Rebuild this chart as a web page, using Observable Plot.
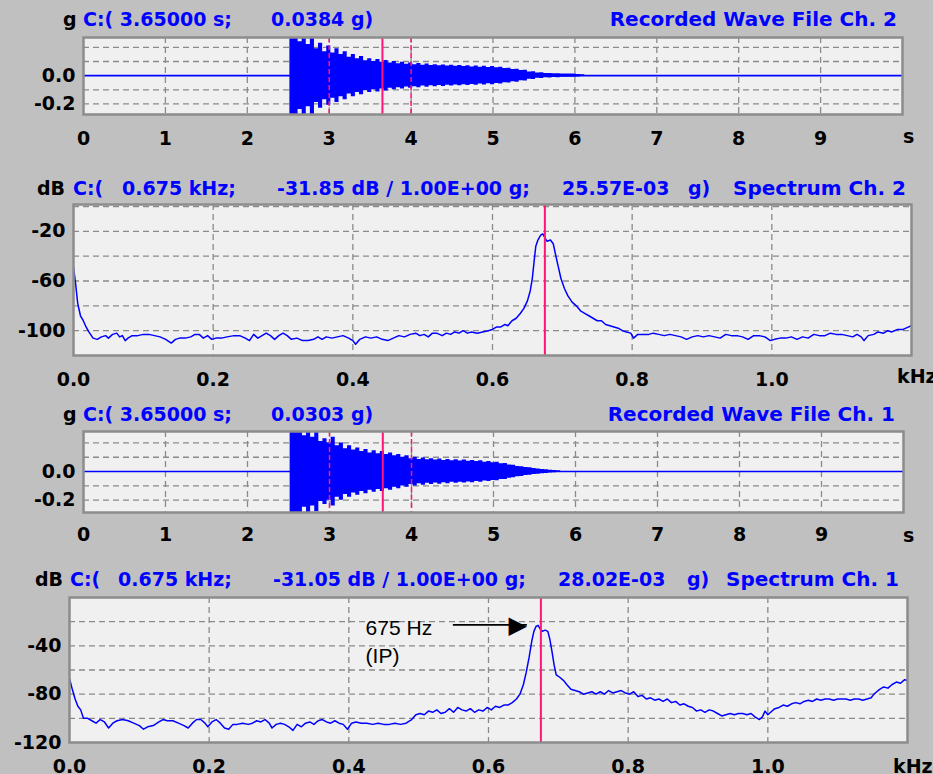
<!DOCTYPE html>
<html><head><meta charset="utf-8">
<script src="https://cdn.jsdelivr.net/npm/d3@7"></script>
<script src="https://cdn.jsdelivr.net/npm/@observablehq/plot@0.6"></script>
<style>
html,body{margin:0;padding:0;background:#c0c0c0;}
#root{position:relative;width:933px;height:774px;overflow:hidden;background:#c0c0c0;font-family:'DejaVu Sans',sans-serif;font-weight:bold;}
.t{position:absolute;white-space:pre;line-height:20px;font-size:19px;}
.b{color:#0000ff;}
.k{color:#000;}
.panel{position:absolute;left:0;}
</style></head><body><div id="root"></div>
<script>
// ---------- data ----------
const waveTime = [
 2.52,2.57,2.62,2.67,2.72,2.77,2.82,2.87,2.92,2.97,
 3.02,3.07,3.12,3.17,3.22,3.27,3.32,3.37,3.42,3.47,
 3.52,3.57,3.62,3.67,3.72,3.77,3.82,3.87,3.92,3.97,
 4.02,4.07,4.12,4.17,4.22,4.27,4.32,4.37,4.42,4.47,
 4.52,4.57,4.62,4.67,4.72,4.77,4.82,4.87,4.92,4.97,
 5.02,5.07,5.12,5.17,5.22,5.27,5.32,5.37,5.42,5.47,
 5.52,5.57,5.62,5.67,5.72,5.77,5.82,5.87,5.92,5.97,
 6.02,6.07,6.12];
const waveCh2Amp = [
 0.30,0.30,0.24,0.30,0.22,0.28,0.19,0.23,0.17,0.21,
 0.16,0.19,0.15,0.17,0.13,0.15,0.12,0.135,0.105,0.12,
 0.10,0.115,0.095,0.108,0.09,0.10,0.085,0.095,0.08,0.09,
 0.078,0.086,0.074,0.082,0.072,0.078,0.07,0.076,0.068,0.074,
 0.066,0.072,0.064,0.07,0.062,0.068,0.06,0.066,0.058,0.064,
 0.056,0.06,0.05,0.052,0.044,0.046,0.036,0.038,0.026,0.028,
 0.019,0.02,0.015,0.016,0.013,0.014,0.012,0.012,0.011,0.011,
 0.009,0.006,0];
const waveCh1Amp = [
 0.30,0.30,0.30,0.25,0.30,0.24,0.28,0.21,0.23,0.20,
 0.24,0.18,0.20,0.16,0.18,0.15,0.165,0.14,0.155,0.13,
 0.145,0.125,0.14,0.12,0.13,0.11,0.12,0.10,0.11,0.09,
 0.10,0.085,0.095,0.082,0.09,0.08,0.088,0.078,0.085,0.075,
 0.082,0.074,0.08,0.072,0.078,0.07,0.075,0.066,0.07,0.062,
 0.065,0.055,0.056,0.046,0.044,0.036,0.034,0.028,0.026,0.021,
 0.018,0.015,0.013,0.01,0.008,0.005,0,0,0,0,
 0,0,0];

const specCh2Freq = [0.000,0.003,0.006,0.010,0.014,0.018,0.022,0.028,0.034,0.040,0.046,0.050,0.056,0.062,0.066,0.070,0.074,0.078,0.084,0.092,0.100,0.108,0.116,0.124,0.132,0.140,0.146,0.152,0.160,0.168,0.174,0.180,0.186,0.192,0.198,0.204,0.212,0.220,0.230,0.238,0.246,0.252,0.258,0.264,0.270,0.276,0.282,0.288,0.294,0.300,0.306,0.312,0.320,0.328,0.336,0.344,0.350,0.356,0.362,0.370,0.378,0.386,0.394,0.400,0.404,0.410,0.418,0.426,0.434,0.442,0.450,0.458,0.466,0.474,0.482,0.490,0.496,0.502,0.508,0.514,0.520,0.528,0.534,0.540,0.546,0.552,0.558,0.564,0.570,0.578,0.586,0.594,0.600,0.606,0.612,0.618,0.622,0.628,0.634,0.640,0.645,0.650,0.654,0.657,0.660,0.662,0.665,0.669,0.672,0.675,0.678,0.683,0.687,0.690,0.694,0.698,0.703,0.708,0.714,0.720,0.726,0.732,0.738,0.744,0.750,0.756,0.762,0.768,0.774,0.780,0.786,0.792,0.798,0.802,0.808,0.816,0.824,0.830,0.838,0.846,0.854,0.862,0.870,0.878,0.886,0.894,0.902,0.910,0.918,0.926,0.934,0.942,0.950,0.958,0.966,0.974,0.982,0.990,0.998,1.004,1.012,1.020,1.028,1.036,1.044,1.052,1.060,1.068,1.076,1.084,1.092,1.100,1.108,1.116,1.122,1.128,1.132,1.138,1.146,1.152,1.160,1.166,1.172,1.180,1.188,1.196,1.200];
const specCh2Db = [-49,-62,-78,-88,-92,-97,-101,-106,-107,-105,-104,-106,-103,-102,-105,-104,-108,-106,-104,-104,-103,-103,-104,-105,-107,-110,-107,-106,-106,-105,-103,-103,-106,-104,-107,-106,-106,-105,-104,-104,-106,-108,-103,-106,-104,-102,-104,-107,-104,-102,-104,-107,-106,-108,-108,-107,-105,-107,-105,-106,-105,-104,-106,-108,-111,-107,-105,-106,-105,-107,-108,-106,-104,-105,-103,-102,-104,-103,-105,-102,-102,-104,-102,-103,-101,-102,-100,-102,-101,-102,-101,-100,-99,-97,-97,-95,-96,-92,-90,-86,-82,-76,-68,-58,-42,-32,-27,-23,-22,-25,-28,-27,-30,-38,-48,-58,-66,-72,-77,-80,-84,-86,-88,-90,-92,-92,-95,-96,-97,-98,-100,-101,-102,-106,-103,-103,-103,-102,-103,-104,-103,-104,-105,-107,-105,-104,-105,-104,-105,-106,-103,-104,-104,-105,-107,-104,-104,-105,-108,-107,-106,-106,-105,-107,-105,-106,-103,-104,-104,-102,-103,-103,-104,-105,-103,-105,-108,-104,-103,-101,-102,-100,-101,-99,-99,-97,-96];

const specCh1Freq = [0.000,0.004,0.008,0.012,0.016,0.020,0.026,0.032,0.038,0.044,0.050,0.056,0.062,0.068,0.076,0.084,0.092,0.100,0.106,0.112,0.120,0.128,0.134,0.140,0.148,0.156,0.164,0.170,0.176,0.182,0.188,0.194,0.198,0.204,0.210,0.216,0.222,0.228,0.234,0.240,0.248,0.256,0.262,0.268,0.274,0.280,0.286,0.290,0.296,0.302,0.308,0.314,0.320,0.326,0.332,0.338,0.344,0.350,0.356,0.362,0.368,0.374,0.380,0.386,0.392,0.398,0.404,0.410,0.418,0.426,0.434,0.442,0.450,0.458,0.466,0.474,0.482,0.490,0.496,0.502,0.508,0.514,0.520,0.526,0.532,0.538,0.544,0.550,0.556,0.562,0.568,0.574,0.580,0.586,0.592,0.598,0.604,0.610,0.616,0.622,0.628,0.634,0.640,0.645,0.650,0.654,0.658,0.662,0.665,0.668,0.671,0.674,0.677,0.681,0.685,0.688,0.691,0.694,0.697,0.702,0.708,0.712,0.718,0.724,0.730,0.736,0.742,0.748,0.754,0.760,0.766,0.772,0.778,0.784,0.790,0.796,0.802,0.808,0.814,0.820,0.826,0.832,0.838,0.844,0.850,0.856,0.862,0.868,0.874,0.880,0.886,0.892,0.898,0.904,0.910,0.916,0.922,0.928,0.934,0.940,0.946,0.952,0.958,0.964,0.970,0.976,0.982,0.988,0.992,0.996,1.000,1.004,1.010,1.016,1.022,1.028,1.034,1.040,1.046,1.052,1.058,1.064,1.070,1.076,1.082,1.088,1.094,1.100,1.106,1.112,1.118,1.124,1.130,1.136,1.142,1.148,1.152,1.156,1.160,1.166,1.172,1.178,1.184,1.190,1.196,1.200];
const specCh1Db = [-67,-76,-84,-90,-93,-100,-100,-102,-104,-101,-103,-108,-104,-102,-101,-102,-104,-106,-109,-107,-106,-103,-101,-102,-102,-104,-106,-108,-104,-101,-101,-104,-107,-103,-101,-104,-108,-109,-105,-105,-104,-105,-104,-102,-103,-101,-104,-108,-105,-104,-105,-107,-110,-105,-107,-104,-103,-105,-102,-101,-103,-104,-102,-104,-105,-109,-104,-103,-104,-104,-105,-104,-105,-105,-104,-105,-104,-101,-97,-96,-97,-94,-95,-93,-96,-95,-92,-95,-91,-93,-94,-92,-95,-93,-94,-91,-93,-90,-91,-89,-89,-87,-84,-80,-72,-62,-50,-36,-28,-24,-23,-26,-28,-27,-28,-35,-45,-56,-64,-66,-69,-72,-76,-77,-78,-80,-79,-78,-80,-78,-80,-77,-79,-78,-77,-79,-80,-78,-82,-81,-84,-83,-85,-84,-86,-84,-87,-86,-89,-88,-90,-91,-94,-93,-95,-93,-94,-96,-98,-97,-96,-97,-96,-96,-97,-96,-99,-101,-99,-94,-97,-95,-92,-91,-89,-90,-88,-87,-88,-86,-85,-86,-84,-85,-84,-84,-85,-84,-84,-84,-85,-84,-84,-85,-84,-83,-80,-78,-76,-74,-75,-72,-70,-71,-68,-69];

const waveXTicks = [0,1,2,3,4,5,6,7,8,9];
const waveXGrid = [1,2,3,4,5,6,7,8,9];
const waveYTicks = [0,-0.2];
const waveYGrid = [-0.2,-0.1,0.1,0.2];
const specXTicks = [0,0.2,0.4,0.6,0.8,1.0];
const specXGrid = [0.2,0.4,0.6,0.8,1.0];
const spec2YTicks = [-20,-60,-100];
const spec2YGrid = [0,-20,-40,-60,-80,-100];
const spec1YTicks = [-40,-80,-120];
const spec1YGrid = [-20,-40,-60,-80,-100];
const cursorTime = [3.65];
const cursorBand = [3.0, 4.0];
const cursorFreq = [0.675];
const annLabels = [{f:0.424, db:-25.1, text:"675 Hz"}, {f:0.424, db:-48.7, text:"(IP)"}];
const annArrow = [{f1:0.549, f2:0.655, db:-22.7}];

const headers = [
 {top:8.7, unit:"g", unitX:63, parts:[["C:( 3.65000 s;",83],["0.0384 g)",271]], title:"Recorded Wave File Ch. 2", titleRight:897},
 {top:177.5, unit:"dB", unitX:37, parts:[["C:(",73],["0.675 kHz;",122],["-31.85 dB / 1.00E+00 g;",277],["25.57E-03",562],["g)",688]], title:"Spectrum Ch. 2", titleRight:906},
 {top:403.5, unit:"g", unitX:63, parts:[["C:( 3.65000 s;",83],["0.0303 g)",271]], title:"Recorded Wave File Ch. 1", titleRight:895},
 {top:568.5, unit:"dB", unitX:35, parts:[["C:(",70],["0.675 kHz;",118],["-31.05 dB / 1.00E+00 g;",273],["28.02E-03",558],["g)",687]], title:"Spectrum Ch. 1", titleRight:899}
];
const units = [{text:"s", x:903, top:126.4},{text:"kHz", x:897, top:366.4},{text:"s", x:903, top:525},{text:"kHz", x:893, top:756.4}];

// ---------- styles ----------
const BLUE="#0000ff", PINK="#ff1478", GRID="#8a8a8a", BG="#f0f0f0", BORDER="#8c8c8c";
const root = document.getElementById("root");

function common(o){
  return {width:933, height:o.height, marginTop:o.mt, marginBottom:o.mb, marginLeft:o.ml, marginRight:o.mr,
    style:{background:"transparent", fontFamily:"'DejaVu Sans', sans-serif", fontSize:"19px", fontWeight:"bold", color:"#000", overflow:"visible"}};
}
function gridMarks(xg, yg){
  return [
    Plot.ruleX(xg, {stroke:GRID, strokeWidth:1.3, strokeDasharray:"6,4"}),
    Plot.ruleY(yg, {stroke:GRID, strokeWidth:1.3, strokeDasharray:"6,4"})
  ];
}
function wave(o, amp){
  const data = waveTime.map((t,i)=>({t, a:amp[i]}));
  return Plot.plot({...common(o),
    x:{domain:[0,10], ticks:waveXTicks, tickFormat:d=>String(d), tickSize:0, tickPadding:o.xpad, label:null},
    y:{domain:o.yDomain, ticks:waveYTicks, tickFormat:d=>d.toFixed(1), tickSize:0, tickPadding:8, label:null},
    marks:[
      Plot.frame({fill:BG, stroke:"none"}),
      ...gridMarks(waveXGrid, waveYGrid),
      Plot.ruleY([0], {stroke:BLUE, strokeWidth:1.6}),
      Plot.areaY(data, {x:"t", y1:d=>-d.a, y2:"a", curve:"step-after", fill:BLUE, clip:true}),
      Plot.ruleX(cursorBand, {stroke:PINK, strokeWidth:1.5, strokeDasharray:"5,3"}),
      Plot.ruleX(cursorTime, {stroke:PINK, strokeWidth:2}),
      Plot.frame({stroke:BORDER, strokeWidth:2.5})
    ]});
}
function spec(o, freq, db, extra){
  const data = freq.map((f,i)=>({f, db:db[i]}));
  return Plot.plot({...common(o),
    x:{domain:[0,1.2], ticks:specXTicks, tickFormat:d=>d.toFixed(1), tickSize:0, tickPadding:o.xpad, label:null},
    y:{domain:o.yDomain, ticks:o.yTicks, tickFormat:d=>String(d), tickSize:0, tickPadding:8, label:null},
    marks:[
      Plot.frame({fill:BG, stroke:"none"}),
      ...gridMarks(specXGrid, o.yGrid),
      Plot.line(data, {x:"f", y:"db", stroke:BLUE, strokeWidth:1.5, clip:true}),
      Plot.ruleX(cursorFreq, {stroke:PINK, strokeWidth:2}),
      ...(extra||[]),
      Plot.frame({stroke:BORDER, strokeWidth:2.5})
    ]});
}
function place(el, top){
  const d = document.createElement("div");
  d.className = "panel"; d.style.top = top + "px";
  d.appendChild(el); root.appendChild(d);
}

place(wave({height:120, mt:7, mb:36, ml:83, mr:31, xpad:17, yDomain:[-0.275,0.27]}, waveCh2Amp), 30);
place(spec({height:197, mt:6, mb:40, ml:73, mr:22, xpad:17, yDomain:[-120,1.6], yTicks:spec2YTicks, yGrid:spec2YGrid}, specCh2Freq, specCh2Db), 198);
place(wave({height:125, mt:6, mb:38, ml:83, mr:30, xpad:15, yDomain:[-0.286,0.28]}, waveCh1Amp), 425);
const annMarks = [
  Plot.text(annLabels, {x:"f", y:"db", text:"text", textAnchor:"start", fontFamily:"'Liberation Sans', Arial, sans-serif", fontSize:21, fontWeight:"normal", fill:"#000"}),
  Plot.link(annArrow, {x1:"f1", x2:"f2", y1:"db", y2:"db", stroke:"#000", strokeWidth:1.8}),
  Plot.text(annArrow, {x:"f2", y:"db", text:()=>"\u25B6", textAnchor:"end", fontFamily:"'DejaVu Sans', sans-serif", fontSize:24, fontWeight:"normal", fill:"#000"})
];
place(spec({height:200, mt:7, mb:48, ml:69, mr:26, xpad:17, yDomain:[-120,0], yTicks:spec1YTicks, yGrid:spec1YGrid}, specCh1Freq, specCh1Db, annMarks), 590);

// headers
for (const h of headers){
  const u = document.createElement("span");
  u.className = "t k"; u.textContent = h.unit; u.style.left = h.unitX + "px"; u.style.top = h.top + "px";
  root.appendChild(u);
  for (const [txt, x] of h.parts){
    const s = document.createElement("span");
    s.className = "t b"; s.textContent = txt; s.style.left = x + "px"; s.style.top = h.top + "px";
    root.appendChild(s);
  }
  const ti = document.createElement("span");
  ti.className = "t b"; ti.textContent = h.title; ti.style.right = (933 - h.titleRight) + "px"; ti.style.top = h.top + "px";
  ti.style.fontSize = "20px";
  root.appendChild(ti);
}
for (const u of units){
  const s = document.createElement("span");
  s.className = "t k"; s.textContent = u.text; s.style.left = u.x + "px"; s.style.top = u.top + "px";
  root.appendChild(s);
}
</script></body></html>
